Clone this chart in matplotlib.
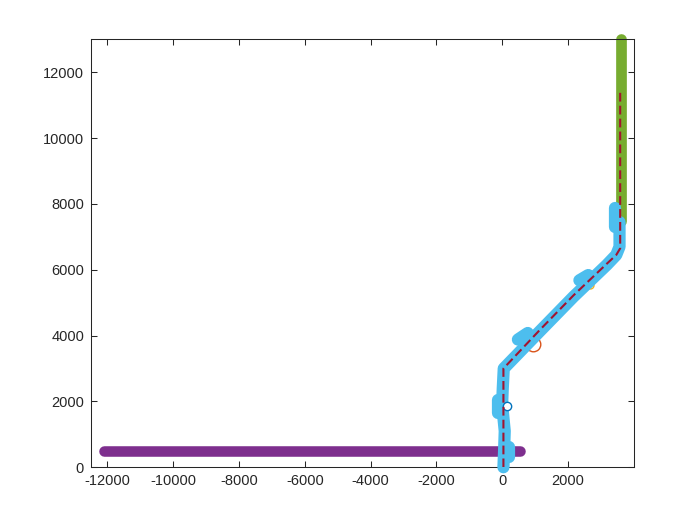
import matplotlib
matplotlib.use("Agg")
import matplotlib.pyplot as plt

plt.rcParams['font.family'] = ['Liberation Sans', 'DejaVu Sans']
plt.rcParams['axes.unicode_minus'] = False

# ---- data ----
purple_x = [-12100, 530]
purple_y = [500, 500]

green_x = [3600, 3600]
green_y = [7470, 13000]

blue_x = [40, 60, 80, 40, 0, 20, 50, 1135, 2170, 3184, 3470, 3570, 3570]
blue_y = [0, 500, 1100, 1500, 1900, 2400, 3000, 4120, 5180, 6150, 6450, 6700, 7450]

# extra lumps of the blue trace
lumpA_x = [-110, -110]; lumpA_y = [1650, 2050]
lumpB_x = [200, 200];   lumpB_y = [300, 620]
lumpC_x = [480, 780];   lumpC_y = [3880, 4080]
lumpD_x = [2350, 2620]; lumpD_y = [5680, 5840]
lumpE_x = [3430, 3430]; lumpE_y = [7300, 7880]

red_x = [40, 40, 1135, 2170, 3184, 3470, 3590, 3590]
red_y = [0, 3000, 4160, 5222, 6184, 6450, 6650, 11480]

circ_blue = (143, 1850)
circ_orange = (953, 3755)
circ_yellow = (2676, 5525)

xticks = [-12000, -10000, -8000, -6000, -4000, -2000, 0, 2000]
yticks = [0, 2000, 4000, 6000, 8000, 10000, 12000]

# ---- figure ----
fig = plt.figure(figsize=(7, 5.25), dpi=100)
ax = fig.add_axes([0.13, 0.11, 0.775, 0.815])

GREEN = '#77AC30'
PURPLE = '#7E2F8E'
BLUE = '#4DBEEE'
RED = '#A2142F'

ax.plot(green_x, green_y, color=GREEN, lw=7.7, solid_capstyle='round', clip_on=False, zorder=2)
ax.plot(purple_x, purple_y, color=PURPLE, lw=7.6, solid_capstyle='round', zorder=2)

ax.plot(*circ_orange, 'o', ms=10.5, mfc='none', mec='#D95319', mew=1.0, zorder=2.5)
ax.plot(*circ_yellow, 'o', ms=5, mfc='none', mec='#EDB120', mew=1.0, zorder=2.5)

bk = dict(color=BLUE, lw=8.8, solid_capstyle='round', solid_joinstyle='round', clip_on=False, zorder=3)
ax.plot(blue_x, blue_y, **bk)
for lx, ly in [(lumpA_x, lumpA_y), (lumpB_x, lumpB_y), (lumpC_x, lumpC_y),
               (lumpD_x, lumpD_y), (lumpE_x, lumpE_y)]:
    ax.plot(lx, ly, **bk)

ax.plot(*circ_blue, 'o', ms=6, mfc='white', mec='#0072BD', mew=1.0, zorder=3.5)

ax.plot(red_x, red_y, color=RED, lw=1.5, linestyle=(0, (4.2, 2.0)), zorder=4)

ax.set_xlim(-12500, 3995)
ax.set_ylim(0, 13000)
ax.set_xticks(xticks)
ax.set_yticks(yticks)
ax.set_xticklabels([str(v) for v in xticks])
ax.set_yticklabels([str(v) for v in yticks])

for s in ax.spines.values():
    s.set_color('#262626')
    s.set_linewidth(0.75)
ax.tick_params(direction='in', length=4.5, width=0.75, colors='#262626',
               labelsize=10.5, top=True, right=True, pad=5)

fig.savefig('out.png', dpi=100)
